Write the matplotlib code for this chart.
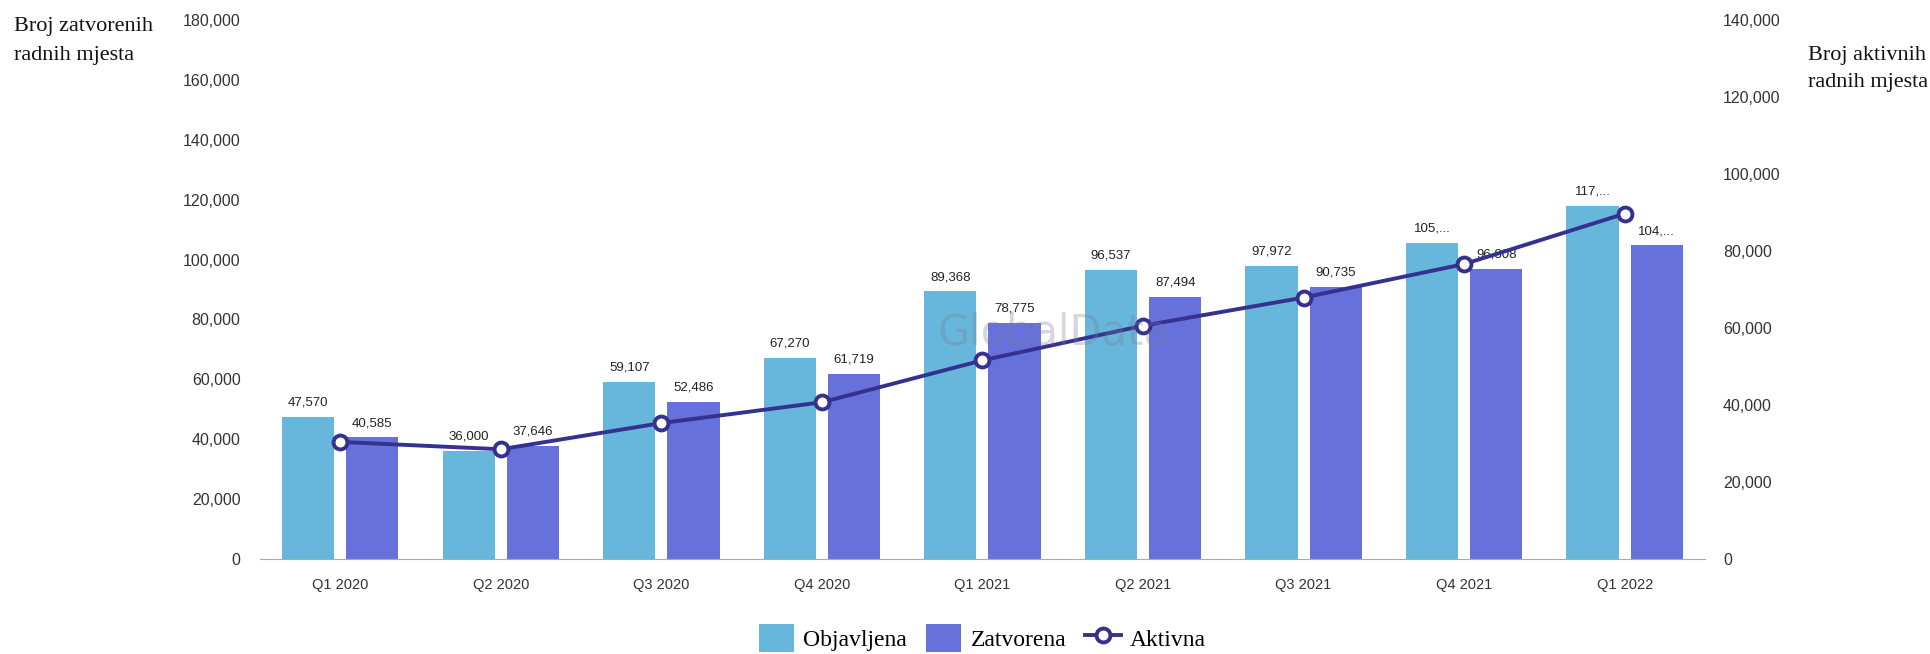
import matplotlib
matplotlib.use("Agg")
import matplotlib.pyplot as plt
import numpy as np
from matplotlib.ticker import FuncFormatter

# data
quarters = ["Q1 2020", "Q2 2020", "Q3 2020", "Q4 2020", "Q1 2021",
            "Q2 2021", "Q3 2021", "Q4 2021", "Q1 2022"]
objavljena = [47570, 36000, 59107, 67270, 89368, 96537, 97972, 105500, 117800]
zatvorena = [40585, 37646, 52486, 61719, 78775, 87494, 90735, 96808, 104700]
aktivna = [30400, 28500, 35300, 40700, 51600, 60600, 67900, 76600, 89700]

left_ticks = np.arange(0, 180001, 20000)
right_ticks = np.arange(0, 140001, 20000)

c_obj = "#67b7dc"
c_zat = "#6771dc"
c_line = "#35318f"
tick_font = "Liberation Sans"
serif = "Liberation Serif"


def short_label(v):
    # the source chart cuts six-digit labels off
    s = f"{v:,}"
    return s[:4] + "..." if v >= 100000 else s


fig = plt.figure(figsize=(19.3, 6.54), dpi=100)
ax = fig.add_axes([0.1347, 0.1453, 0.8834 - 0.1347, 0.9694 - 0.1453])
ax2 = ax.twinx()

x = np.arange(len(quarters))
w = 0.325
b1 = ax.bar(x - 0.2, objavljena, w, color=c_obj, label="Objavljena", zorder=2)
b2 = ax.bar(x + 0.2, zatvorena, w, color=c_zat, label="Zatvorena", zorder=2)

for bars, vals in ((b1, objavljena), (b2, zatvorena)):
    for r, v in zip(bars, vals):
        ax.annotate(short_label(v), (r.get_x() + r.get_width() / 2, r.get_height()),
                    xytext=(0, 6), textcoords="offset points", ha="center", va="bottom",
                    fontsize=9.5, color="#222222", family=tick_font, zorder=5)

ax2.plot(x, aktivna, color=c_line, lw=2.8, marker="o", ms=10, mfc="white",
         mec=c_line, mew=2.8, label="Aktivna", zorder=4)

ax.set_xlim(-0.5, len(quarters) - 0.5)
ax.set_ylim(0, 180000)
ax2.set_ylim(0, 140000)
ax.set_yticks(left_ticks)
ax2.set_yticks(right_ticks)
fmt = FuncFormatter(lambda v, p: f"{int(v):,}")
ax.yaxis.set_major_formatter(fmt)
ax2.yaxis.set_major_formatter(fmt)
ax.set_xticks(x)
ax.set_xticklabels(quarters)

for a in (ax, ax2):
    for s in a.spines.values():
        s.set_visible(False)
    a.tick_params(length=0, labelcolor="#333333")
    a.tick_params(axis="y", labelsize=11.5)
    a.tick_params(axis="x", labelsize=10.5)
    for t in a.get_xticklabels() + a.get_yticklabels():
        t.set_family(tick_font)
ax.spines["bottom"].set_visible(True)
ax.spines["bottom"].set_color("#aaaaaa")
ax.tick_params(axis="y", pad=14)
ax2.tick_params(axis="y", pad=13)
ax.tick_params(axis="x", pad=14)
ax2.set_zorder(ax.get_zorder() + 1)
ax2.patch.set_visible(False)

# axis titles
fig.text(14 / 1930, 1 - 17 / 654, "Broj zatvorenih\nradnih mjesta", family=serif,
         fontsize=16, va="top", ha="left", color="#111111", linespacing=1.7)
fig.text(1808 / 1930, 1 - 46 / 654, "Broj aktivnih\nradnih mjesta", family=serif,
         fontsize=16, va="top", ha="left", color="#111111", linespacing=1.55)

# watermark
fig.text(1060 / 1930, 1 - 333 / 654, "GlobalData.", fontsize=30, color="#7a7a95",
         alpha=0.3, ha="center", va="center", family="DejaVu Sans")

h1, l1 = ax.get_legend_handles_labels()
h2, l2 = ax2.get_legend_handles_labels()
fig.legend(h1 + h2, l1 + l2, loc="center", bbox_to_anchor=(0.509, 1 - 638 / 654),
           ncol=3, frameon=False, prop={"family": serif, "size": 17},
           handlelength=1.5, handleheight=1.4, columnspacing=0.8, handletextpad=0.4)

plt.savefig("out.png", dpi=100)
